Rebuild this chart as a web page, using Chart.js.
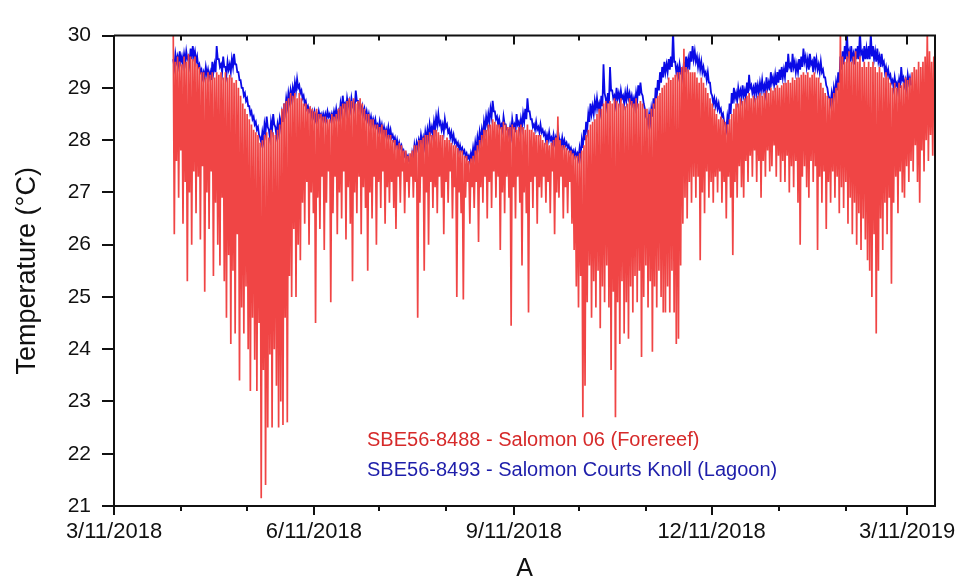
<!DOCTYPE html>
<html>
<head>
<meta charset="utf-8">
<title>Temperature loggers</title>
<script src="https://cdn.jsdelivr.net/npm/chart.js@4.4.1/dist/chart.umd.min.js"></script>
<style>
  html, body { margin: 0; padding: 0; background: #fff; }
  #wrap { width: 972px; height: 580px; }
</style>
</head>
<body>
<div id="wrap"><canvas id="tempChart" width="972" height="580"></canvas></div>
<script>
// readings start 4/7/2018, forereef logger: one daily high and one daily low
var firstDay = "2018-04-07";

var redHigh = [
  30.2, 29.5, 29.6, 29.5, 29.45, 29.6, 29.5, 29.65, 29.6, 29.55,
  29.6, 29.45, 29.4, 29.3, 29.3, 29.2, 29.3, 29.25, 29.3, 29.2,
  29.3, 29.25, 29.3, 29.2, 29.3, 29.2, 29.25, 29.2, 29.1, 29.15,
  29.0, 28.85, 28.7, 28.6, 28.5, 28.4, 28.3, 28.2, 28.15, 28.1,
  27.95, 28.0, 28.1, 28.15, 28.05, 28.2, 28.15, 28.1, 28.2, 28.3,
  28.6, 28.7, 28.75, 28.8, 28.9, 28.85, 28.9, 28.8, 28.9, 28.8,
  28.7, 28.7, 28.6, 28.65, 28.6, 28.55, 28.6, 28.5, 28.5, 28.45,
  28.45, 28.4, 28.4, 28.5, 28.45, 28.5, 28.6, 28.65, 28.7, 28.7,
  28.75, 28.8, 28.75, 28.8, 28.7, 28.75, 28.8, 28.7, 28.6, 28.5,
  28.5, 28.4, 28.4, 28.3, 28.3, 28.25, 28.3, 28.2, 28.2, 28.1,
  28.1, 28.0, 28.0, 27.9, 27.95, 27.9, 27.8, 27.8, 27.7, 27.75,
  27.8, 27.9, 27.9, 28.0, 28.0, 28.05, 28.1, 28.1, 28.15, 28.1,
  28.2, 28.2, 28.15, 28.1, 28.1, 28.0, 28.05, 28.0, 27.95, 27.9,
  27.9, 27.85, 27.8, 27.8, 27.7, 27.7, 27.6, 27.65, 27.7, 27.8,
  27.9, 28.0, 28.1, 28.2, 28.2, 28.3, 28.3, 28.4, 28.35, 28.3,
  28.3, 28.25, 28.35, 28.3, 28.25, 28.25, 28.3, 28.25, 28.2, 28.25,
  28.3, 28.25, 28.2, 28.3, 28.2, 28.2, 28.15, 28.1, 28.1, 28.1,
  28.0, 27.95, 28.0, 27.9, 27.95, 28.0, 28.05, 28.45, 28.0, 27.9,
  27.9, 27.85, 27.8, 27.8, 27.75, 27.7, 27.7, 27.75, 27.8, 27.9,
  28.1, 28.2, 28.3, 28.35, 28.4, 28.5, 28.6, 28.6, 28.7, 28.75,
  28.7, 28.75, 28.7, 28.8, 28.75, 28.7, 28.8, 28.7, 28.65, 28.7,
  28.8, 28.75, 28.7, 28.8, 28.7, 28.75, 28.7, 28.6, 28.6, 28.5,
  28.6, 28.7, 28.8, 28.85, 28.9, 29.0, 29.05, 29.1, 29.2, 29.15,
  29.2, 29.25, 29.3, 29.3, 29.4, 29.75, 29.4, 29.35, 29.3, 29.3,
  29.3, 29.2, 29.1, 29.2, 29.1, 29.0, 28.9, 28.8, 28.7, 28.6,
  28.5, 28.4, 28.45, 28.4, 28.35, 28.3, 28.4, 28.5, 28.6, 28.7,
  28.7, 28.8, 28.75, 28.8, 28.85, 28.9, 28.8, 28.85, 28.8, 28.85,
  28.9, 28.85, 28.9, 28.95, 28.9, 29.0, 28.95, 29.0, 29.05, 29.0,
  29.05, 29.1, 29.1, 29.15, 29.1, 29.2, 29.15, 29.2, 29.2, 29.25,
  29.3, 29.25, 29.3, 29.2, 29.25, 29.3, 29.2, 29.2, 29.1, 29.0,
  28.9, 28.85, 28.8, 28.8, 28.9, 29.0, 29.1, 30.1, 29.6, 29.5,
  29.6, 29.7, 29.5, 29.6, 29.7, 29.5, 29.6, 29.4, 29.5, 29.4,
  29.5, 29.4, 29.5, 29.4, 29.3, 29.4, 29.3, 29.2, 29.3, 29.2,
  29.1, 29.0, 29.1, 29.0, 29.1, 29.05, 29.1, 29.2, 29.15, 29.2,
  29.3, 29.4, 29.35, 29.5, 29.4, 29.5, 29.6, 30.1, 29.7, 29.5, 29.6
];

var redLow = [
  26.2, 27.6, 26.9, 27.8, 26.4, 27.2, 25.3, 27.0, 26.0, 27.4,
  26.6, 27.3, 26.1, 27.5, 25.1, 27.0, 26.3, 27.4, 25.4, 26.8,
  26.0, 25.6, 26.9, 25.3, 24.6, 25.8, 24.1, 25.5, 24.3, 26.2,
  23.4, 24.8, 24.3, 25.2, 24.0, 23.2, 24.6, 23.8, 23.2, 24.5,
  21.15, 23.6, 21.4, 22.5, 23.9, 22.5, 24.0, 23.3, 22.5, 23.0,
  22.55, 24.6, 22.6, 25.4, 25.0, 26.3, 25.0, 26.0, 25.7, 26.8,
  26.4, 27.2, 26.0, 27.0, 26.6, 24.5, 26.9, 26.3, 27.3, 25.9,
  26.8, 27.4, 24.9, 26.6, 27.3, 26.2, 27.0, 26.5, 27.4, 26.1,
  27.1, 26.4, 25.3, 27.0, 26.6, 27.3, 26.2, 27.1, 26.7, 25.5,
  27.0, 26.5, 27.3, 26.0, 27.2, 26.7, 27.4, 26.4, 27.1, 26.8,
  27.2, 26.7, 26.3, 27.3, 26.8, 27.4, 26.6, 27.2, 26.9, 27.3,
  26.9, 27.2, 24.6, 26.8, 27.3, 25.5, 27.0, 26.0, 27.2, 26.7,
  27.1, 26.6, 27.3, 26.9, 26.2, 27.2, 26.8, 27.4, 26.5, 27.1,
  25.0, 27.0, 26.6, 24.95, 26.9, 27.2, 26.4, 27.1, 26.7, 27.2,
  26.05, 27.1, 26.8, 27.3, 26.5, 27.2, 26.7, 27.4, 26.9, 27.3,
  25.9, 27.0, 26.6, 27.3, 26.9, 24.45, 27.1, 26.5, 27.3, 26.8,
  25.6, 27.0, 26.6, 24.7, 27.2, 26.7, 27.3, 26.4, 27.1, 26.9,
  27.3, 26.8, 27.2, 26.6, 27.4, 26.2, 27.0, 26.9, 27.3, 26.5,
  27.1, 26.6, 27.2, 26.4, 25.9, 25.2, 24.8, 25.4, 22.7, 23.3,
  24.9, 25.6, 24.6, 25.3, 24.8, 25.5, 24.4, 25.2, 24.9, 25.6,
  24.8, 23.6, 25.1, 22.7, 24.9, 24.1, 25.3, 24.3, 24.9, 24.2,
  25.2, 24.7, 25.4, 24.9, 25.5, 23.85, 25.0, 25.6, 24.8, 25.3,
  23.95, 25.2, 24.8, 25.5, 25.0, 24.7, 24.7, 25.2, 24.7, 25.5,
  24.7, 24.1, 24.2, 25.6, 26.4, 26.9, 26.5, 27.2, 26.8, 27.3,
  26.9, 27.3, 25.7, 27.0, 26.6, 27.4, 26.9, 27.2, 26.8, 27.3,
  27.0, 27.4, 26.8, 27.2, 26.5, 27.3, 26.9, 25.8, 27.2, 26.9,
  27.5, 27.1, 26.9, 27.6, 27.2, 27.7, 27.3, 27.8, 27.2, 27.6,
  26.9, 27.6, 27.3, 27.8, 27.4, 27.5, 27.9, 27.3, 27.7, 27.2,
  27.6, 27.2, 27.7, 27.0, 27.5, 27.1, 27.6, 26.8, 26.0, 27.3,
  27.5, 27.1, 26.9, 27.6, 27.2, 27.5, 25.9, 27.3, 26.8, 27.4,
  26.3, 27.2, 26.8, 27.4, 26.9, 27.3, 26.6, 27.1, 26.7, 27.2,
  26.4, 26.9, 26.2, 26.8, 26.0, 26.6, 25.9, 26.5, 26.1, 25.7,
  25.5, 25.0, 26.2, 24.3, 25.5, 26.5, 25.9, 26.8, 26.2, 26.9,
  25.25, 26.8, 27.3, 26.6, 27.4, 27.0, 26.9, 27.5, 27.2, 27.6,
  27.4, 27.9, 27.2, 26.8, 27.8, 27.4, 28.0, 27.6, 28.1, 27.7, 28.5
];

// lagoon logger, daily high and daily low from the same first day
var blueHigh = [
  29.55, 29.65, 29.6, 29.7, 29.6, 29.65, 29.7, 29.6, 29.75, 29.8,
  29.7, 29.6, 29.45, 29.35, 29.3, 29.4, 29.35, 29.3, 29.5, 29.45,
  29.8, 29.55, 29.45, 29.6, 29.4, 29.5, 29.45, 29.55, 29.65, 29.45,
  29.3, 29.15, 29.0, 28.9, 28.8, 28.65, 28.55, 28.45, 28.35, 28.25,
  28.05, 28.15, 28.3, 28.45, 28.2, 28.35, 28.5, 28.25, 28.3, 28.4,
  28.5, 28.7, 28.8, 28.9, 28.95, 29.0, 29.1, 29.17, 29.05, 28.95,
  28.85, 28.75, 28.65, 28.6, 28.55, 28.55, 28.5, 28.55, 28.5, 28.5,
  28.5, 28.55, 28.5, 28.5, 28.55, 28.6, 28.55, 28.7, 28.85, 28.7,
  28.8, 28.75, 28.8, 28.7, 28.95, 28.75, 28.7, 28.65, 28.6, 28.55,
  28.5, 28.45, 28.4, 28.4, 28.3, 28.35, 28.3, 28.25, 28.2, 28.25,
  28.2, 28.1, 28.05, 28.0, 27.95, 27.9, 27.8, 27.75, 27.7, 27.6,
  27.75, 27.9, 27.95, 28.0, 28.1, 28.05, 28.15, 28.2, 28.3, 28.25,
  28.35, 28.45, 28.5, 28.35, 28.3, 28.4, 28.3, 28.2, 28.15, 28.1,
  28.0, 27.95, 27.9, 27.85, 27.8, 27.75, 27.7, 27.75, 27.85, 27.95,
  28.05, 28.15, 28.2, 28.35, 28.45, 28.5, 28.6, 28.75, 28.55, 28.45,
  28.4, 28.3, 28.45, 28.3, 28.2, 28.25, 28.4, 28.3, 28.5, 28.35,
  28.4, 28.5, 28.6, 28.8, 28.55, 28.4, 28.3, 28.35, 28.25, 28.3,
  28.2, 28.15, 28.1, 28.15, 28.05, 28.1, 28.05, 28.2, 28.0, 28.05,
  28.0, 27.95, 27.9, 27.85, 27.8, 27.8, 27.75, 27.85, 28.0, 28.2,
  28.35, 28.5, 28.7, 28.65, 28.75, 28.8, 28.7, 28.85, 29.45, 28.8,
  28.9, 29.4, 28.95, 28.85, 29.0, 28.9, 28.95, 28.85, 28.9, 28.95,
  28.9, 28.85, 28.8, 28.9, 29.05, 29.1, 28.85, 28.6, 28.4, 28.5,
  28.6, 28.8, 29.0, 29.15, 29.3, 29.4, 29.5, 29.45, 29.55, 29.6,
  30.1, 29.5, 29.4, 29.45, 29.35, 29.5, 29.6, 29.55, 29.7, 29.8,
  29.7, 29.6, 29.55, 29.5, 29.4, 29.3, 29.3, 29.1, 28.85, 28.8,
  28.75, 28.7, 28.6, 28.5, 28.3, 28.45, 28.7, 28.9, 29.0, 28.9,
  29.0, 28.95, 29.05, 28.95, 29.1, 29.25, 29.05, 29.0, 29.1, 29.05,
  29.1, 29.15, 29.05, 29.2, 29.1, 29.3, 29.2, 29.25, 29.3, 29.35,
  29.4, 29.35, 29.5, 29.65, 29.45, 29.65, 29.5, 29.45, 29.55, 29.6,
  29.75, 29.6, 29.55, 29.65, 29.5, 29.6, 29.55, 29.45, 29.5, 29.35,
  29.2, 29.0, 28.8, 28.9, 29.0, 29.1, 29.3, 29.6, 29.7, 29.8,
  30.1, 29.7, 29.8, 29.65, 29.75, 29.8, 30.1, 29.7, 29.8, 29.75,
  29.8, 30.05, 29.8, 29.7, 29.75, 29.6, 29.65, 29.5, 29.4, 29.35,
  29.25, 29.15, 29.2, 29.1, 29.15, 29.4, 29.2, 29.15, 29.25, 29.2
];

var blueLow = [
  29.4, 29.5, 29.45, 29.5, 29.45, 29.5, 29.55, 29.45, 29.55, 29.6,
  29.5, 29.4, 29.3, 29.2, 29.2, 29.25, 29.2, 29.15, 29.3, 29.3,
  29.55, 29.4, 29.3, 29.4, 29.25, 29.35, 29.3, 29.4, 29.45, 29.3,
  29.15, 29.0, 28.85, 28.75, 28.65, 28.5, 28.4, 28.3, 28.2, 28.1,
  27.95, 28.0, 28.15, 28.25, 28.05, 28.2, 28.3, 28.1, 28.15, 28.25,
  28.35, 28.55, 28.65, 28.75, 28.8, 28.85, 28.95, 29.0, 28.9, 28.8,
  28.7, 28.6, 28.55, 28.45, 28.45, 28.4, 28.4, 28.45, 28.4, 28.4,
  28.4, 28.45, 28.4, 28.4, 28.45, 28.45, 28.45, 28.55, 28.65, 28.55,
  28.65, 28.6, 28.65, 28.6, 28.75, 28.6, 28.55, 28.5, 28.45, 28.4,
  28.35, 28.3, 28.3, 28.25, 28.2, 28.2, 28.15, 28.1, 28.1, 28.1,
  28.05, 28.0, 27.9, 27.85, 27.85, 27.75, 27.7, 27.65, 27.6, 27.5,
  27.65, 27.75, 27.85, 27.9, 27.95, 27.9, 28.0, 28.05, 28.15, 28.1,
  28.2, 28.3, 28.3, 28.2, 28.15, 28.25, 28.15, 28.05, 28.0, 27.95,
  27.9, 27.8, 27.8, 27.75, 27.7, 27.65, 27.6, 27.65, 27.7, 27.8,
  27.9, 28.0, 28.05, 28.2, 28.3, 28.35, 28.45, 28.55, 28.4, 28.3,
  28.25, 28.2, 28.3, 28.2, 28.1, 28.1, 28.25, 28.15, 28.3, 28.2,
  28.25, 28.35, 28.4, 28.55, 28.4, 28.25, 28.2, 28.2, 28.15, 28.15,
  28.1, 28.0, 28.0, 28.0, 27.95, 27.95, 27.95, 28.05, 27.9, 27.9,
  27.9, 27.85, 27.8, 27.75, 27.7, 27.7, 27.65, 27.7, 27.85, 28.0,
  28.2, 28.35, 28.5, 28.5, 28.6, 28.6, 28.55, 28.65, 28.9, 28.65,
  28.7, 28.95, 28.8, 28.7, 28.8, 28.75, 28.8, 28.7, 28.75, 28.8,
  28.75, 28.7, 28.65, 28.75, 28.85, 28.9, 28.7, 28.45, 28.3, 28.35,
  28.45, 28.6, 28.8, 28.95, 29.1, 29.2, 29.3, 29.3, 29.35, 29.4,
  29.5, 29.3, 29.25, 29.3, 29.2, 29.3, 29.4, 29.35, 29.5, 29.55,
  29.5, 29.4, 29.35, 29.3, 29.25, 29.15, 29.1, 28.9, 28.7, 28.65,
  28.6, 28.55, 28.45, 28.35, 28.2, 28.3, 28.5, 28.7, 28.8, 28.75,
  28.85, 28.8, 28.85, 28.8, 28.9, 29.0, 28.9, 28.85, 28.9, 28.9,
  28.95, 28.95, 28.9, 29.0, 28.95, 29.1, 29.05, 29.05, 29.1, 29.15,
  29.2, 29.2, 29.3, 29.4, 29.3, 29.4, 29.3, 29.3, 29.35, 29.4,
  29.5, 29.4, 29.35, 29.45, 29.3, 29.4, 29.35, 29.3, 29.3, 29.2,
  29.05, 28.85, 28.7, 28.75, 28.85, 28.95, 29.1, 29.35, 29.45, 29.55,
  29.6, 29.5, 29.55, 29.45, 29.55, 29.55, 29.65, 29.5, 29.55, 29.55,
  29.55, 29.6, 29.55, 29.5, 29.5, 29.4, 29.45, 29.3, 29.25, 29.2,
  29.1, 29.0, 29.05, 28.95, 29.0, 29.15, 29.05, 29.0, 29.1, 29.05
];

var seriesNames = [
  "SBE56-8488 - Salomon 06 (Forereef)",
  "SBE56-8493 - Salomon Courts Knoll (Lagoon)"
];

// monthly ticks on the 11th, labelled every third month
var tickDates = [
  "2018-03-11", "2018-04-11", "2018-05-11", "2018-06-11", "2018-07-11",
  "2018-08-11", "2018-09-11", "2018-10-11", "2018-11-11", "2018-12-11",
  "2019-01-11", "2019-02-11", "2019-03-11"
];
var tickLabels = ["3/11/2018", "6/11/2018", "9/11/2018", "12/11/2018", "3/11/2019"];
var xStart = "2018-03-11T00:00:00Z";
var xEnd = "2019-03-23T19:00:00Z";

var DAY = 86400000;
var t0 = Date.parse(firstDay + "T00:00:00Z");

function dailyPairs(highs, lows) {
  var out = [];
  for (var i = 0; i < highs.length; i++) {
    out.push({ x: t0 + (i + 0.25) * DAY, y: highs[i] });
    out.push({ x: t0 + (i + 0.75) * DAY, y: lows[i] });
  }
  return out;
}
var forereef = dailyPairs(redHigh, redLow);
var lagoon = dailyPairs(blueHigh, blueLow);

// frame on top/right, tick marks, and the in-plot legend text
var legendInk = ["#d62a2a", "#1e1eaa"];
var frameTicks = {
  id: "frameTicks",
  afterDraw: function (chart) {
    var ctx = chart.ctx;
    var a = chart.chartArea;
    var x = chart.scales.x;
    var y = chart.scales.y;

    ctx.save();
    ctx.strokeStyle = "#111";
    ctx.lineWidth = 2;
    ctx.beginPath();
    ctx.moveTo(a.left, a.top);
    ctx.lineTo(a.right, a.top);
    ctx.lineTo(a.right, a.bottom);
    ctx.stroke();

    ctx.beginPath();
    x.ticks.forEach(function (t, k) {
      var px = Math.round(x.getPixelForValue(t.value));
      var len = k % 3 === 0 ? 9 : 5;
      ctx.moveTo(px, a.bottom);
      ctx.lineTo(px, a.bottom + len);
      ctx.moveTo(px, a.top);
      ctx.lineTo(px, a.top + len);
    });
    y.ticks.forEach(function (t) {
      var py = Math.round(y.getPixelForValue(t.value));
      var len = Number.isInteger(t.value) ? 12 : 6;
      ctx.moveTo(a.left - len, py);
      ctx.lineTo(a.left, py);
    });
    ctx.stroke();

    ctx.font = '20px "Liberation Sans", Arial, sans-serif';
    ctx.textBaseline = "alphabetic";
    ctx.textAlign = "left";
    chart.data.datasets.forEach(function (ds, k) {
      ctx.fillStyle = legendInk[k];
      ctx.fillText(ds.label, 367, 446 + k * 30);
    });
    ctx.restore();
  }
};

new Chart("tempChart", {
  type: "line",
  data: {
    datasets: [
      {
        label: seriesNames[0],
        data: forereef,
        borderColor: "#f04545",
        borderWidth: 1.7,
        pointRadius: 0,
        tension: 0,
        fill: false
      },
      {
        label: seriesNames[1],
        data: lagoon,
        borderColor: "#0a0ae6",
        borderWidth: 1.8,
        pointRadius: 0,
        tension: 0,
        fill: false
      }
    ]
  },
  options: {
    responsive: false,
    animation: false,
    parsing: false,
    normalized: true,
    events: [],
    layout: { padding: { left: 0, right: 37, top: 20, bottom: 0 } },
    plugins: {
      legend: { display: false },
      tooltip: { enabled: false }
    },
    scales: {
      x: {
        type: "linear",
        min: Date.parse(xStart),
        max: Date.parse(xEnd),
        afterBuildTicks: function (scale) {
          scale.ticks = tickDates.map(function (d) {
            return { value: Date.parse(d + "T00:00:00Z") };
          });
        },
        afterFit: function (scale) { scale.height = 74; },
        grid: { display: false, drawTicks: false },
        border: { display: true, color: "#111", width: 2 },
        ticks: {
          autoSkip: false,
          maxRotation: 0,
          minRotation: 0,
          padding: 13,
          color: "#111",
          font: { family: '"Liberation Sans", Arial, sans-serif', size: 22 },
          callback: function (value, index) {
            return index % 3 === 0 ? tickLabels[index / 3] : "";
          }
        },
        title: {
          display: true,
          text: "A",
          color: "#111",
          padding: { top: 0, bottom: 0 },
          font: { family: '"Liberation Sans", Arial, sans-serif', size: 25, lineHeight: 0.9 }
        }
      },
      y: {
        min: 21,
        max: 30,
        afterFit: function (scale) { scale.width = 114; },
        grid: { display: false, drawTicks: false },
        border: { display: true, color: "#111", width: 2 },
        ticks: {
          stepSize: 0.5,
          padding: 23,
          color: "#111",
          font: { family: '"Liberation Sans", Arial, sans-serif', size: 21 },
          callback: function (value) {
            return Number.isInteger(value) ? String(value) : "";
          }
        },
        title: {
          display: true,
          text: "Temperature (°C)",
          color: "#111",
          padding: { top: 11, bottom: 0 },
          font: { family: '"Liberation Sans", Arial, sans-serif', size: 27 }
        }
      }
    }
  },
  plugins: [frameTicks]
});
</script>
</body>
</html>
